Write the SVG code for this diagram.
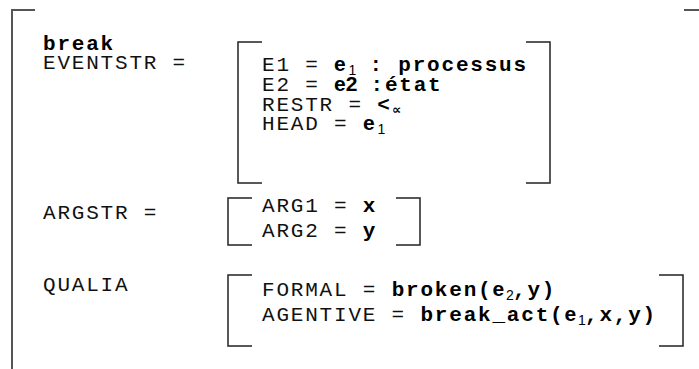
<svg xmlns="http://www.w3.org/2000/svg" width="699" height="369" viewBox="0 0 699 369">
  <style>
    .t { font-family: "Liberation Mono", "Courier New", monospace; font-size: 21px; letter-spacing: 1.8px; fill: #111; }
    .b { font-weight: bold; fill: #000; }
    .e { font-family: "Liberation Sans", Arial, sans-serif; font-size: 21px; font-weight: bold; letter-spacing: 0; fill: #000; }
    .sub { font-family: "Liberation Sans", Arial, sans-serif; font-size: 14px; letter-spacing: 0; fill: #000; }
    .sym { font-family: "DejaVu Sans", sans-serif; font-size: 13px; font-weight: bold; letter-spacing: 0; fill: #000; }
    .outer { fill: none; stroke: #555; stroke-width: 2; }
    .br { fill: none; stroke: #222; stroke-width: 1.5; }
  </style>

  <!-- outer attribute-value matrix -->
  <g id="outer">
    <path class="outer" d="M35,10 H12 V369"/>
    <path class="outer" d="M684,10 H699"/>
    <text class="t b" x="43" y="50">break</text>
  </g>

  <!-- event structure -->
  <g id="eventstr">
    <text class="t" x="43" y="69">EVENTSTR =</text>
    <path class="br" d="M262,42 H238 V183 H262"/>
    <path class="br" d="M526,42 H550 V183 H526"/>
    <text class="t" x="262" y="71">E1 = </text>
    <text class="e" x="334" y="71">e</text>
    <text class="sub" x="348.5" y="75">1</text>
    <text class="t b" x="369.5" y="71">: processus</text>
    <text class="t" x="262" y="91">E2 = </text>
    <text class="e" x="334" y="91">e2</text>
    <text class="t b" x="370.5" y="91">:état</text>
    <text class="t" x="262" y="111">RESTR = <tspan class="b">&lt;</tspan></text>
    <text class="sym" x="392" y="114">∝</text>
    <text class="t" x="262" y="130">HEAD = </text>
    <text class="e" x="363" y="130">e</text>
    <text class="sub" x="377.5" y="134">1</text>
  </g>

  <!-- argument structure -->
  <g id="argstr">
    <text class="t" x="43" y="219">ARGSTR =</text>
    <path class="br" d="M252,198 H228 V245 H252"/>
    <path class="br" d="M396,198 H420 V245 H396"/>
    <text class="t" x="262" y="212">ARG1 = <tspan class="b">x</tspan></text>
    <text class="t" x="262" y="237">ARG2 = <tspan class="b">y</tspan></text>
  </g>

  <!-- qualia structure -->
  <g id="qualia">
    <text class="t" x="43" y="291">QUALIA</text>
    <path class="br" d="M252,275 H228 V346 H252"/>
    <path class="br" d="M659,275 H683 V346 H659"/>
    <text class="t" x="262" y="296">FORMAL = <tspan class="b">broken(</tspan></text>
    <text class="e" x="492.4" y="296">e</text>
    <text class="sub" x="506" y="300">2</text>
    <text class="t b" x="513" y="296">,y)</text>
    <text class="t" x="262" y="321">AGENTIVE = <tspan class="b">break_act(</tspan></text>
    <text class="e" x="564.4" y="321">e</text>
    <text class="sub" x="578" y="325">1</text>
    <text class="t b" x="585" y="321">,x,y)</text>
  </g>
</svg>
